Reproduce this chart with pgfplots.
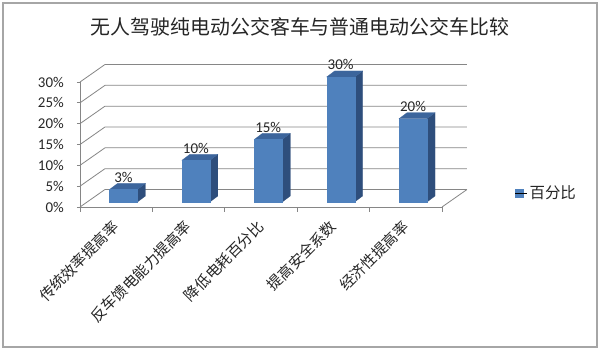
\documentclass[border=0pt]{standalone}
\usepackage{pgfplots}
\pgfplotsset{compat=1.18}
\usepackage{pgfplotstable}
\usepackage{fontspec}
\setmainfont{Carlito}
\newfontfamily\cjk{Noto Sans CJK SC}
\definecolor{barfront}{HTML}{4F81BD}
\definecolor{bartop}{HTML}{3C659C}
\definecolor{barside}{HTML}{2E4E7C}
\definecolor{gridc}{HTML}{868686}
\definecolor{framec}{HTML}{A6A6A6}

\pgfplotstableread{
x v
0 3
1 10
2 15
3 30
4 20
}\datatable

% depth geometry (axis units)
\def\Dx{0.345}\def\Dy{4.2}
\def\sx{0.1}\def\sy{1.2}
\def\hw{0.1935}
\def\bdx{0.1105}\def\bdy{1.44}

\begin{document}
\begin{tikzpicture}
\useasboundingbox (0bp,0bp) rectangle (600bp,350bp);
\fill[white] (0bp,0bp) rectangle (600bp,350bp);
\draw[framec, line width=1.5bp] (3bp,3bp) rectangle (597bp,347bp);
\node[font=\cjk\fontsize{20}{24}\selectfont, text=black!85] at (300bp,323bp) {无人驾驶纯电动公交客车与普通电动公交车比较};
\begin{axis}[
  at={(80bp,143bp)}, anchor=origin,
  scale only axis, width=362bp, height=125bp,
  xmin=0, xmax=5, ymin=0, ymax=30,
  clip=false,
  axis x line*=bottom, axis y line*=left,
  axis line style={gridc, line width=0.8bp},
  tick align=outside,
  major tick length=3bp, minor tick length=5bp,
  every tick/.style={gridc, line width=0.8bp},
  ytick={0,5,...,30},
  yticklabel={\pgfmathprintnumber{\tick}\%},
  /pgf/number format/assume math mode=true,
  yticklabel style={font=\fontsize{15}{18}\selectfont, inner sep=0pt, xshift=-13bp, text=black!85},
  xtick={0.5,1.5,2.5,3.5,4.5},
  minor xtick={0,1,2,3,4,5},
  major x tick style={draw=none},
  xticklabels={传统效率提高率,反车馈电能力提高率,降低电耗百分比,提高安全系数,经济性提高率},
  xticklabel style={font=\cjk\fontsize{15}{18}\selectfont, rotate=45, anchor=east, inner sep=0pt, text=black!85},
  xticklabel shift=14bp,
  legend style={at={(1.2017,0.112)}, anchor=west, draw=none, fill=none, inner sep=0pt,
    font=\cjk\fontsize{15.5}{18}\selectfont, text=black!85},
  legend cell align=left,
]
\addlegendimage{legend image code/.code={\fill[barfront] (0bp,-4bp) rectangle (8bp,4bp); \path (0bp,0bp) -- (12bp,0bp);}}
\addlegendentry{百分比}

% back wall and side wall grid
\pgfplotsinvokeforeach{0,5,10,15,20,25,30}{
  \draw[gridc, line width=0.8bp] (axis cs:0,#1) -- (axis cs:\Dx,{#1+\Dy}) -- (axis cs:{5+\Dx},{#1+\Dy});
}
\draw[gridc, line width=0.8bp] (axis cs:5,0) -- (axis cs:{5+\Dx},\Dy);

% 3D bars
\pgfplotsinvokeforeach{0,...,4}{
  \pgfplotstablegetelem{#1}{v}\of\datatable
  \pgfmathsetmacro\V{\pgfplotsretval}
  \pgfmathsetmacro\xa{#1+0.5-\hw+\sx}
  \pgfmathsetmacro\xb{#1+0.5+\hw+\sx}
  \pgfmathsetmacro\xc{\xa+\bdx}
  \pgfmathsetmacro\xd{\xb+\bdx}
  \pgfmathsetmacro\ya{\sy}
  \pgfmathsetmacro\yb{\V+\sy}
  \pgfmathsetmacro\yc{\sy+\bdy}
  \pgfmathsetmacro\yd{\V+\sy+\bdy}
  \edef\doplot{%
    \noexpand\addplot[draw=barside, fill=barside, line width=0.2bp] coordinates {(\xb,\ya) (\xd,\yc) (\xd,\yd) (\xb,\yb)} -- cycle;
    \noexpand\addplot[draw=bartop, fill=bartop, line width=0.2bp] coordinates {(\xa,\yb) (\xb,\yb) (\xd,\yd) (\xc,\yd)} -- cycle;
    \noexpand\addplot[draw=barfront, fill=barfront, line width=0.2bp] coordinates {(\xa,\ya) (\xb,\ya) (\xb,\yb) (\xa,\yb)} -- cycle;
  }%
  \doplot
}

% data labels
\addplot[draw=none, mark=none, point meta=explicit,
  nodes near coords={\pgfmathprintnumber{\pgfplotspointmeta}\%},
  every node near coord/.append style={anchor=south, inner sep=1bp, font=\fontsize{15}{18}\selectfont, text=black!85}]
  table[x expr=\thisrow{x}+0.5+\sx, y expr=\thisrow{v}+\sy+\bdy, meta=v]{\datatable};
\end{axis}
\end{tikzpicture}
\end{document}
